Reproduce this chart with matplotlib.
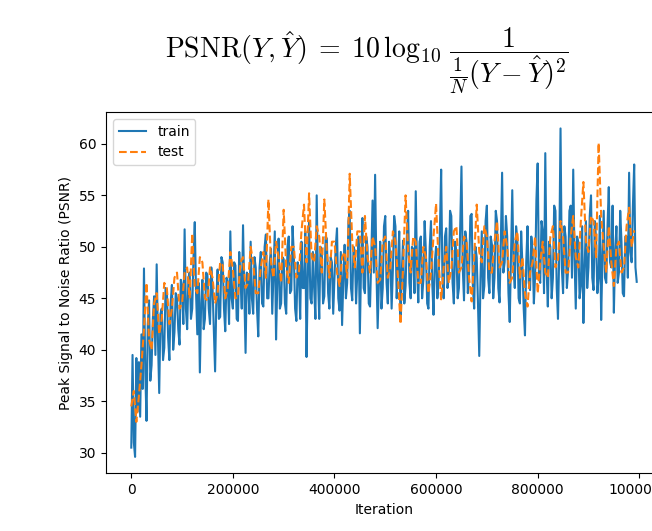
import matplotlib
matplotlib.use("Agg")
import matplotlib.pyplot as plt
import numpy as np

plt.rcParams['mathtext.fontset'] = 'cm'

# PSNR per iteration
train_step = 2500
train_psnr = [
    30.5, 39.5, 31.0, 29.6, 39.2, 34.0, 38.8, 33.5, 41.5, 36.2, 47.9, 38.0, 33.1, 42.5, 44.8, 37.0, 38.5, 43.0, 45.2, 39.5,
    48.3, 41.0, 35.8, 43.5, 44.0, 39.0, 40.2, 46.0, 45.8, 41.2, 39.0, 44.5, 46.3, 40.0, 41.7, 45.5, 45.0, 42.0, 40.5, 46.8,
    46.2, 42.5, 51.7, 44.0, 42.0, 47.0, 47.5, 43.0, 44.0, 49.0, 52.4, 45.5, 41.5, 46.5, 37.8, 44.5, 46.8, 42.0, 43.0, 47.5,
    47.2, 44.0, 42.5, 48.0, 46.0, 42.0, 37.9, 45.0, 47.8, 43.0, 43.2, 49.0, 48.5, 44.0, 41.8, 47.0, 46.5, 42.5, 51.5, 45.0,
    44.0, 48.5, 48.2, 43.0, 42.8, 49.5, 47.0, 44.0, 52.1, 45.5, 39.7, 47.5, 46.8, 43.5, 50.5, 45.0, 43.5, 49.0, 48.0, 44.0,
    41.3, 48.0, 49.5, 44.5, 44.2, 50.0, 51.2, 45.0, 45.0, 48.5, 49.8, 43.5, 47.5, 51.5, 41.0, 46.5, 50.8, 44.0, 44.5, 49.0,
    48.8, 44.5, 43.5, 50.0, 51.0, 45.5, 45.8, 52.0, 49.2, 44.0, 42.8, 48.5, 47.5, 43.0, 50.5, 46.0, 46.0, 51.5, 39.3, 47.0,
    52.5, 45.0, 44.5, 49.5, 46.0, 43.0, 55.0, 47.0, 43.0, 50.0, 49.5, 44.5, 45.2, 51.0, 50.8, 45.5, 44.0, 49.0, 48.5, 43.5,
    47.0, 50.0, 51.8, 45.0, 43.8, 49.5, 42.4, 47.0, 50.2, 45.0, 46.5, 52.5, 53.5, 46.0, 44.8, 50.0, 49.6, 44.5, 47.5, 51.0,
    41.6, 48.5, 52.8, 46.0, 45.5, 51.0, 50.0, 44.5, 44.2, 49.0, 54.5, 47.5, 57.0, 48.0, 42.1, 46.5, 50.5, 44.0, 46.0, 52.0,
    53.0, 46.5, 44.5, 50.5, 49.0, 44.0, 47.8, 53.0, 52.0, 45.0, 48.5, 51.5, 43.2, 47.5, 50.6, 44.5, 46.2, 51.0, 53.5, 46.5,
    45.0, 50.0, 49.8, 45.5, 55.4, 48.0, 44.6, 50.5, 51.0, 45.0, 46.8, 52.5, 49.5, 44.5, 44.0, 50.0, 52.5, 46.5, 43.4, 48.5,
    50.0, 45.0, 46.5, 51.5, 57.5, 47.0, 45.0, 51.0, 51.8, 46.0, 47.2, 53.5, 53.0, 46.5, 44.5, 50.5, 49.5, 45.0, 46.0, 52.0,
    57.8, 48.0, 44.8, 51.5, 50.5, 45.5, 47.5, 53.0, 53.2, 46.0, 44.0, 50.0, 49.0, 44.5, 39.4, 47.0, 51.5, 45.0, 46.2, 52.5,
    54.0, 47.0, 45.5, 51.0, 50.2, 45.0, 47.0, 53.5, 52.5, 46.0, 44.6, 50.5, 57.2, 47.5, 48.5, 53.0, 51.0, 45.5, 42.7, 49.0,
    55.5, 48.0, 46.0, 52.0, 50.8, 45.0, 44.5, 51.5, 48.2, 44.0, 41.4, 48.5, 52.0, 46.5, 45.8, 51.0, 49.5, 44.5, 47.2, 54.5,
    58.1, 47.5, 46.5, 52.5, 51.5, 45.5, 59.1, 48.0, 44.2, 50.5, 50.0, 45.0, 47.0, 54.0, 53.5, 46.0, 43.0, 49.5, 61.5, 48.0,
    45.5, 52.0, 51.0, 46.0, 47.8, 53.5, 54.0, 47.0, 57.5, 49.0, 44.0, 51.0, 50.5, 45.0, 46.2, 52.0, 42.6, 48.0, 52.5, 46.0,
    48.0, 53.0, 55.0, 47.0, 45.8, 52.5, 50.8, 45.5, 47.0, 53.0, 42.9, 49.0, 53.5, 47.0, 46.5, 52.0, 55.8, 48.5, 48.0, 54.0,
    43.6, 49.5, 52.0, 46.5, 47.5, 53.5, 50.5, 45.5, 45.2, 51.0, 51.0, 47.0, 57.2, 49.5, 48.5, 54.0, 58.0, 48.0, 46.6,
]

test_step = 5000
test_psnr = [
    34.5, 36.0, 33.0, 35.5, 38.5, 42.0, 46.5, 41.0, 40.0, 44.5,
    45.5, 41.5, 43.0, 46.5, 46.0, 42.5, 44.0, 47.0, 47.5, 44.0,
    44.5, 47.5, 48.0, 45.0, 51.3, 46.0, 45.5, 49.0, 48.5, 45.0,
    44.8, 48.0, 47.0, 44.5, 45.5, 48.5, 48.2, 45.0, 46.0, 49.5,
    47.8, 45.0, 45.2, 48.5, 49.0, 46.0, 46.5, 50.0, 48.5, 45.5,
    45.5, 48.0, 49.5, 47.0, 54.6, 48.5, 47.0, 50.5, 49.0, 46.5,
    53.6, 48.0, 46.5, 50.0, 50.0, 47.0, 47.5, 51.5, 54.1, 48.5,
    55.2, 49.0, 48.5, 52.0, 51.0, 47.5, 54.6, 49.5, 47.0, 50.5,
    50.5, 47.5, 46.2, 49.0, 49.5, 47.0, 57.1, 50.5, 48.0, 51.5,
    51.5, 47.5, 53.0, 49.0, 47.5, 51.0, 50.0, 46.5, 46.8, 50.5,
    51.0, 47.0, 48.0, 51.5, 50.5, 47.0, 42.5, 48.0, 55.0, 49.5,
    47.5, 51.0, 50.5, 46.5, 46.5, 50.0, 49.0, 45.5, 47.5, 51.0,
    54.2, 48.5, 44.9, 48.0, 50.0, 46.5, 47.8, 51.5, 52.0, 47.5,
    48.0, 51.0, 50.5, 47.0, 44.7, 49.0, 54.1, 49.5, 48.5, 52.0,
    51.0, 47.5, 47.5, 50.5, 52.5, 48.0, 48.5, 51.5, 50.0, 46.5,
    47.0, 50.5, 51.5, 47.0, 49.0, 45.5, 44.2, 47.5, 48.5, 51.0,
    45.5, 48.5, 50.5, 47.5, 47.0, 51.0, 52.0, 48.0, 48.8, 52.5,
    51.0, 47.5, 47.5, 51.0, 53.0, 49.0, 48.0, 52.5, 56.3, 50.5,
    49.5, 53.0, 52.5, 49.0, 60.1, 53.0, 50.0, 47.5, 52.0, 48.5,
    46.2, 50.0, 50.5, 47.5, 48.0, 52.0, 53.8, 50.0, 51.6,
]

train_iter = np.arange(len(train_psnr)) * train_step
test_iter = np.arange(len(test_psnr)) * test_step

fig = plt.figure(figsize=(6.52, 5.31), dpi=100)
# axes runs past the right edge, as in the cropped original
ax = fig.add_axes([106 / 652, (531 - 473.3) / 531, 556 / 652, 361.3 / 531])

ax.plot(train_iter, train_psnr, label='train')
ax.plot(test_iter, test_psnr, '--', label='test')
ax.set_xlabel('Iteration')
ax.set_ylabel('Peak Signal to Noise Ratio (PSNR)')
ax.ticklabel_format(axis='x', style='plain', useOffset=False)
ax.legend(loc='upper left')

fig.text(367 / 652, 1 - 61 / 531,
         r'$\mathrm{PSNR}(Y,\hat{Y})\;=\;10\,\log_{10}\,\dfrac{1}{\frac{1}{N}(Y-\hat{Y})^2}$',
         ha='center', va='center', fontsize=20)

fig.savefig('out.png', dpi=100)
